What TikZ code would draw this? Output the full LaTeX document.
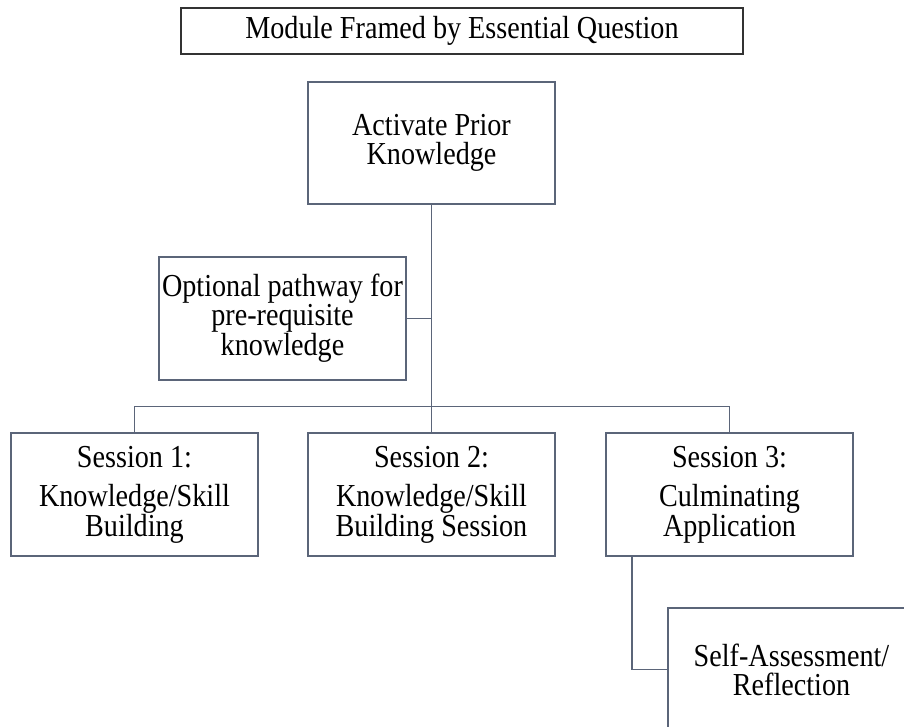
\documentclass[tikz,border=0pt]{standalone}
\usepackage{fontspec}
\setmainfont{Liberation Serif}[FakeStretch=0.88]
\usepackage{tikz}
\usepackage{color}
\definecolor{boxline}{HTML}{5B6579}

\begin{document}
\begin{tikzpicture}[x=1pt,y=-1pt,
  box/.style={draw=boxline,line width=1.8pt,fill=white,align=center,inner sep=0pt,
    minimum width=247pt,minimum height=123pt,
    font=\fontsize{32}{29}\selectfont},
  link/.style={draw=boxline,line width=1.8pt}]
\useasboundingbox (0,0) rectangle (904,727);
\clip (0,0) rectangle (904,727);
\node [box,draw=black!80,minimum width=562pt,minimum height=46pt] (q) at (462,31) {Module Framed by Essential Question};
\node [box,minimum height=122pt] (act) at (431.5,143) {Activate Prior\\Knowledge};
\node [box] (opt) at (282.5,318.5) {Optional pathway for\\pre-requisite\\knowledge};
\node [box] (s1) at (134.5,494.5) {Session 1:\\[10pt]Knowledge/Skill\\Building};
\node [box] (s2) at (431.5,494.5) {Session 2:\\[10pt]Knowledge/Skill\\Building Session};
\node [box] (s3) at (729.5,494.5) {Session 3:\\[10pt]Culminating\\Application};
\node [box] (self) at (791.5,669.5) {Self-Assessment/\\Reflection};
\coordinate (bar) at (431.5,406.5);
\coordinate (drop) at (632,556);
\draw [link] (act.south) -- (s2.north);
\draw [link] (opt.east) -- (opt.east -| act.south);
\draw [link] (s1.north) |- (bar) -| (s3.north);
\draw [link] (drop) |- (self.west);
\end{tikzpicture}
\end{document}
